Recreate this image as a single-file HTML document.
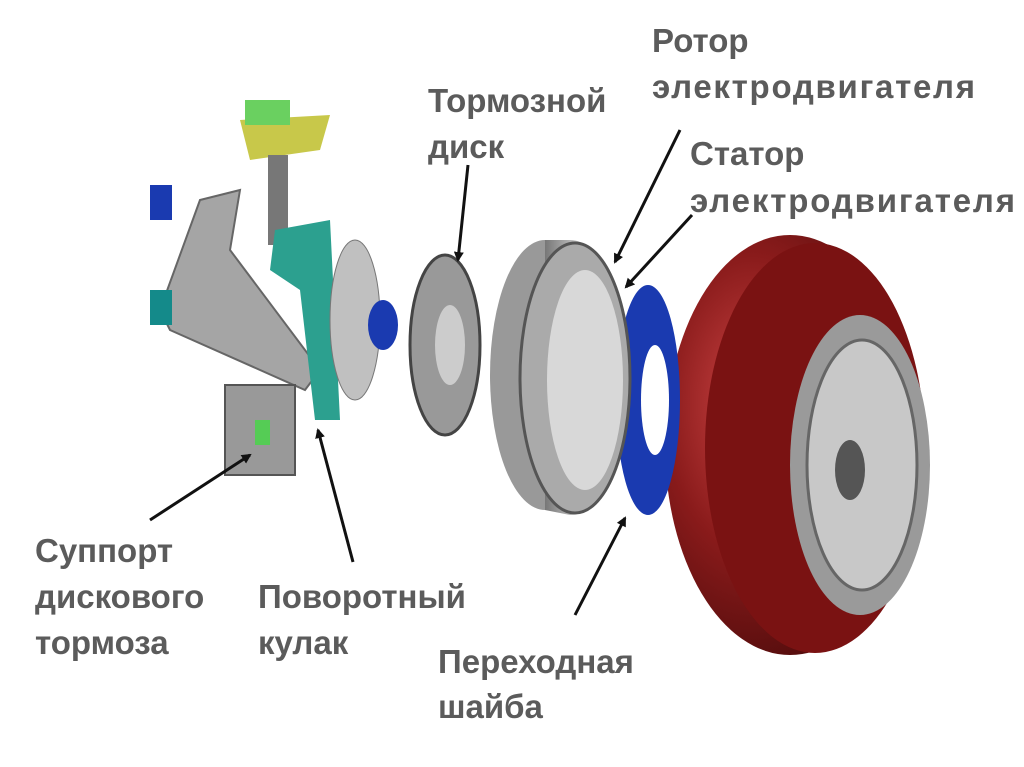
<!DOCTYPE html>
<html><head><meta charset="utf-8"><style>
html,body{margin:0;padding:0;background:#fff;}
svg{display:block;}
text{font-family:"Liberation Sans","DejaVu Sans",sans-serif;font-weight:bold;fill:#5b5b5b;font-size:33px;}
</style></head><body>
<svg width="1024" height="767" viewBox="0 0 1024 767" xmlns="http://www.w3.org/2000/svg">
<defs>
<marker id="ah" markerWidth="10" markerHeight="10" refX="8" refY="5" orient="auto" markerUnits="userSpaceOnUse">
<path d="M0,0 L10,5 L0,10 z" fill="#111"/></marker>
<radialGradient id="tire" cx="0.35" cy="0.4" r="0.7">
<stop offset="0" stop-color="#c44"/><stop offset="0.5" stop-color="#8a1b1b"/><stop offset="1" stop-color="#4a0a0a"/></radialGradient>
<linearGradient id="drum" x1="0" x2="1"><stop offset="0" stop-color="#777"/><stop offset="0.5" stop-color="#ddd"/><stop offset="1" stop-color="#888"/></linearGradient>
</defs>
<!-- tire -->
<ellipse cx="790" cy="445" rx="125" ry="210" fill="url(#tire)"/>
<ellipse cx="815" cy="448" rx="110" ry="205" fill="#7a1212"/>
<ellipse cx="860" cy="465" rx="70" ry="150" fill="#9a9a9a"/>
<ellipse cx="862" cy="465" rx="55" ry="125" fill="#c8c8c8" stroke="#666" stroke-width="3"/>
<ellipse cx="850" cy="470" rx="15" ry="30" fill="#555"/>
<!-- blue plate -->
<ellipse cx="648" cy="400" rx="32" ry="115" fill="#1a3ab0"/>
<ellipse cx="655" cy="400" rx="14" ry="55" fill="#fff"/>
<!-- drum -->
<ellipse cx="545" cy="375" rx="55" ry="135" fill="#999"/>
<path d="M545,240 L570,240 A60,137 0 0 1 570,515 L545,510 z" fill="url(#drum)"/>
<ellipse cx="575" cy="378" rx="55" ry="135" fill="#aaa" stroke="#555" stroke-width="3"/>
<ellipse cx="585" cy="380" rx="38" ry="110" fill="#d8d8d8"/>
<!-- brake disc -->
<ellipse cx="445" cy="345" rx="35" ry="90" fill="#999" stroke="#444" stroke-width="3"/>
<ellipse cx="450" cy="345" rx="15" ry="40" fill="#ccc"/>
<!-- left suspension -->
<path d="M160,310 L200,200 L240,190 L230,250 L320,370 L305,390 L170,330 z" fill="#a5a5a5" stroke="#666" stroke-width="2"/>
<rect x="150" y="290" width="22" height="35" fill="#148a8a"/>
<rect x="150" y="185" width="22" height="35" fill="#1a3ab0"/>
<path d="M240,120 L330,115 L320,150 L250,160 z" fill="#c8c84a"/>
<rect x="245" y="100" width="45" height="25" fill="#6ad060"/>
<rect x="268" y="155" width="20" height="90" fill="#777"/>
<path d="M275,230 L330,220 L340,420 L315,420 L300,290 L270,270 z" fill="#2ca08f"/>
<ellipse cx="355" cy="320" rx="25" ry="80" fill="#c0c0c0" stroke="#777"/>
<ellipse cx="383" cy="325" rx="15" ry="25" fill="#1a3ab0"/>
<rect x="225" y="385" width="70" height="90" fill="#999" stroke="#555" stroke-width="2"/>
<rect x="255" y="420" width="15" height="25" fill="#5c5"/>
<!-- arrows -->
<g stroke="#111" stroke-width="3" fill="none" marker-end="url(#ah)">
<line x1="468" y1="165" x2="458" y2="260"/>
<line x1="680" y1="130" x2="615" y2="262"/>
<line x1="692" y1="215" x2="626" y2="287"/>
<line x1="150" y1="520" x2="250" y2="455"/>
<line x1="353" y1="562" x2="318" y2="430"/>
<line x1="575" y1="615" x2="625" y2="518"/>
</g>
<!-- labels -->
<text x="652" y="52">Ротор</text>
<text x="652" y="98" textLength="323">электродвигателя</text>
<text x="428" y="112">Тормозной</text>
<text x="428" y="158">диск</text>
<text x="690" y="165">Статор</text>
<text x="690" y="212" textLength="325">электродвигателя</text>
<text x="35" y="562">Суппорт</text>
<text x="35" y="608">дискового</text>
<text x="35" y="654">тормоза</text>
<text x="258" y="608">Поворотный</text>
<text x="258" y="654">кулак</text>
<text x="438" y="673">Переходная</text>
<text x="438" y="718">шайба</text>
</svg>
</body></html>
